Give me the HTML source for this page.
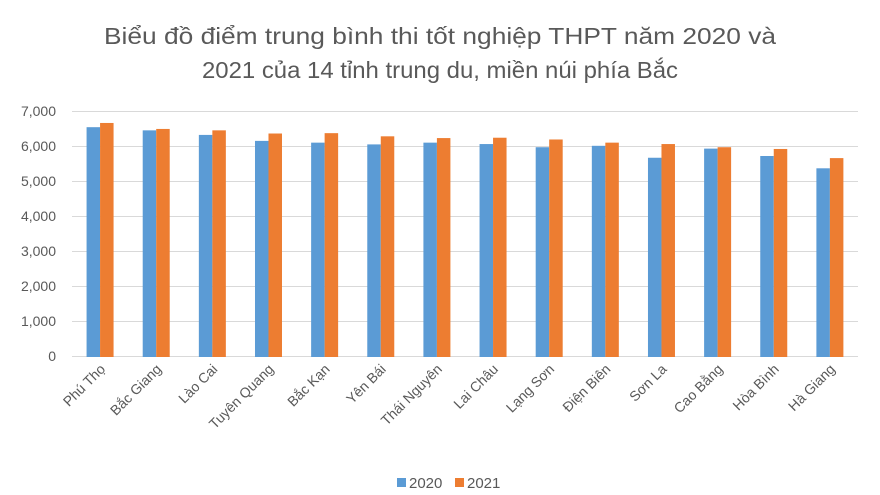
<!DOCTYPE html>
<html><head><meta charset="utf-8"><style>
html,body{margin:0;padding:0;background:#fff;}
svg{display:block;font-family:"Liberation Sans",sans-serif;}
</style></head><body>
<svg width="880" height="495" xmlns="http://www.w3.org/2000/svg">
<rect x="0" y="0" width="880" height="495" fill="#fff"/>
<text x="440" y="44" text-anchor="middle" font-size="23" fill="#595959" textLength="672" lengthAdjust="spacingAndGlyphs">Biểu đồ điểm trung bình thi tốt nghiệp THPT năm 2020 và</text>
<text x="440" y="78" text-anchor="middle" font-size="23" fill="#595959" textLength="476" lengthAdjust="spacingAndGlyphs">2021 của 14 tỉnh trung du, miền núi phía Bắc</text>
<g stroke="#d9d9d9" stroke-width="1">
<line x1="72" x2="858" y1="111.5" y2="111.5"/>
<line x1="72" x2="858" y1="146.5" y2="146.5"/>
<line x1="72" x2="858" y1="181.5" y2="181.5"/>
<line x1="72" x2="858" y1="216.5" y2="216.5"/>
<line x1="72" x2="858" y1="251.5" y2="251.5"/>
<line x1="72" x2="858" y1="286.5" y2="286.5"/>
<line x1="72" x2="858" y1="321.5" y2="321.5"/>
<line x1="72" x2="858" y1="356.5" y2="356.5"/>
</g>
<g font-size="14" fill="#595959" text-anchor="end">
<text x="56" y="116">7,000</text>
<text x="56" y="151">6,000</text>
<text x="56" y="186">5,000</text>
<text x="56" y="221">4,000</text>
<text x="56" y="256">3,000</text>
<text x="56" y="291">2,000</text>
<text x="56" y="326">1,000</text>
<text x="56" y="361">0</text>
</g>
<g id="bars"></g>
<g id="labels" font-size="14" fill="#595959" text-anchor="end"></g>
<rect x="397" y="478" width="9" height="9" fill="#5b9bd5"/>
<text x="409" y="488" font-size="15" fill="#595959">2020</text>
<rect x="455" y="478" width="9" height="9" fill="#ed7d31"/>
<text x="467" y="488" font-size="15" fill="#595959">2021</text>
<script>
var names=["Phú Thọ","Bắc Giang","Lào Cai","Tuyên Quang","Bắc Kạn","Yên Bái","Thái Nguyên","Lai Châu","Lạng Sơn","Điện Biên","Sơn La","Cao Bằng","Hòa Bình","Hà Giang"];
var a=[6540,6450,6320,6150,6100,6050,6100,6060,5970,6010,5670,5930,5720,5370];
var b=[6660,6490,6450,6360,6370,6280,6230,6240,6190,6100,6060,5970,5920,5660];
var ns="http://www.w3.org/2000/svg",g=document.getElementById("bars"),L=document.getElementById("labels");
var base=357,k=35.14/1000;
for(var i=0;i<14;i++){
 var c=72+56.14*(i+0.5);
 var r=document.createElementNS(ns,"rect");
 var h=a[i]*k;r.setAttribute("x",c-13.5);r.setAttribute("y",base-h);r.setAttribute("width",13.5);r.setAttribute("height",h);r.setAttribute("fill","#5b9bd5");g.appendChild(r);
 r=document.createElementNS(ns,"rect");h=b[i]*k;
 r.setAttribute("x",c);r.setAttribute("y",base-h);r.setAttribute("width",13.5);r.setAttribute("height",h);r.setAttribute("fill","#ed7d31");g.appendChild(r);
 var t=document.createElementNS(ns,"text");
 t.setAttribute("transform","translate("+(c+6)+",370) rotate(-45)");
 t.textContent=names[i];L.appendChild(t);
}
</script>
</svg>
</body></html>
